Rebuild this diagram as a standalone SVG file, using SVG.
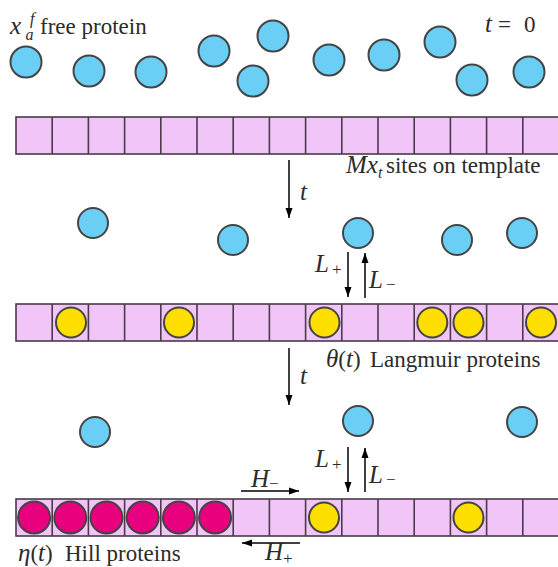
<svg xmlns="http://www.w3.org/2000/svg" xmlns:xlink="http://www.w3.org/1999/xlink" width="558" height="567" viewBox="0 0 558 567">
<style>
text{font-family:"Liberation Serif","DejaVu Serif",serif;font-size:23px;fill:#2b2b2b}
.i{font-style:italic;font-size:25px}
.s{font-size:17px}
.si{font-size:16px;font-style:italic}
.free{fill:#6bcff5;stroke:#444;stroke-width:2}
.lang{fill:#ffdf00;stroke:#444;stroke-width:2}
.hill{fill:#e8007f;stroke:#444;stroke-width:2}
.cell{fill:#f2c5f8;stroke:#4a3a4a;stroke-width:1.6}
.div{stroke:#4a3a4a;stroke-width:1.6}
.arr{stroke:#000;stroke-width:1.5;fill:none;marker-end:url(#ah)}
</style>
<defs>
<marker id="ah" viewBox="0 0 10 10" refX="10" refY="5" markerWidth="10" markerHeight="10" markerUnits="userSpaceOnUse" orient="auto">
<path d="M0,1.5 L10,5 L0,8.5 z" fill="#000"/>
</marker>
<g id="row">
<rect class="cell" x="16" y="0" width="543" height="37"/>
<path class="div" d="M52.2,0V37M88.4,0V37M124.6,0V37M160.8,0V37M197,0V37M233.2,0V37M269.4,0V37M305.6,0V37M341.8,0V37M378,0V37M414.2,0V37M450.4,0V37M486.6,0V37M522.8,0V37"/>
</g>
</defs>
<rect width="558" height="567" fill="#fff"/>

<g id="labels">
<text x="10" y="34" class="i">x</text><text x="30" y="24" class="si">f</text><text x="25.5" y="40" class="si">a</text>
<text x="40" y="34">free protein</text>
<text x="485" y="32" class="i">t</text><text x="498" y="32" font-size="25">=</text><text x="524" y="32" font-size="25">0</text>
<text x="346" y="173" class="i">Mx</text><text x="378" y="178" class="si">t</text><text x="386" y="173">sites on template</text>
<text x="326" y="367"><tspan class="i">θ</tspan>(<tspan class="i">t</tspan>)</text><text x="370" y="367">Langmuir proteins</text>
<text x="18" y="561"><tspan class="i">η</tspan>(<tspan class="i">t</tspan>)</text><text x="65" y="561">Hill proteins</text>
</g>

<g id="free-t0">
<circle class="free" cx="26" cy="62" r="15.5"/>
<circle class="free" cx="89" cy="71" r="15.5"/>
<circle class="free" cx="151" cy="72" r="15.5"/>
<circle class="free" cx="214" cy="51" r="15.5"/>
<circle class="free" cx="253" cy="81" r="15.5"/>
<circle class="free" cx="273" cy="36" r="15.5"/>
<circle class="free" cx="329" cy="60" r="15.5"/>
<circle class="free" cx="384" cy="55" r="15.5"/>
<circle class="free" cx="440" cy="42" r="15.5"/>
<circle class="free" cx="472" cy="80" r="15.5"/>
<circle class="free" cx="529" cy="72" r="15.5"/>
</g>
<g id="template-1"><use xlink:href="#row" y="117"/></g>

<g id="free-2">
<circle class="free" cx="93" cy="223" r="15"/>
<circle class="free" cx="233" cy="240" r="15"/>
<circle class="free" cx="358" cy="233" r="15"/>
<circle class="free" cx="457" cy="240" r="15"/>
<circle class="free" cx="522" cy="233" r="15"/>
</g>
<g id="template-2">
<use xlink:href="#row" y="304"/>
<circle class="lang" cx="71" cy="322.5" r="15"/>
<circle class="lang" cx="179" cy="322.5" r="15"/>
<circle class="lang" cx="324.5" cy="322.5" r="15"/>
<circle class="lang" cx="432.3" cy="322.5" r="15"/>
<circle class="lang" cx="468.5" cy="322.5" r="15"/>
<circle class="lang" cx="541" cy="322.5" r="15"/>
</g>

<g id="free-3">
<circle class="free" cx="95" cy="432" r="15"/>
<circle class="free" cx="358" cy="421" r="15"/>
<circle class="free" cx="522" cy="422" r="15"/>
</g>
<g id="template-3">
<use xlink:href="#row" y="499"/>
<circle class="hill" cx="34.1" cy="517.5" r="16"/>
<circle class="hill" cx="70.3" cy="517.5" r="16"/>
<circle class="hill" cx="106.5" cy="517.5" r="16"/>
<circle class="hill" cx="142.7" cy="517.5" r="16"/>
<circle class="hill" cx="178.9" cy="517.5" r="16"/>
<circle class="hill" cx="215.1" cy="517.5" r="16"/>
<circle class="lang" cx="324" cy="517.5" r="15"/>
<circle class="lang" cx="468.5" cy="517.5" r="15"/>
</g>

<g id="connectors">
<line class="arr" x1="289" y1="160" x2="289" y2="218"/>
<line class="arr" x1="289" y1="348" x2="289" y2="405"/>
<line class="arr" x1="348" y1="252" x2="348" y2="297"/>
<line class="arr" x1="365" y1="298" x2="365" y2="253"/>
<line class="arr" x1="348" y1="447" x2="348" y2="492"/>
<line class="arr" x1="365" y1="492" x2="365" y2="448"/>
<line class="arr" x1="241" y1="491" x2="299" y2="491"/>
<line class="arr" x1="300" y1="543" x2="242" y2="543"/>
</g>

<g id="connector-labels">
<text x="300" y="200" class="i">t</text>
<text x="300" y="384" class="i">t</text>
<text x="315" y="272" class="i">L</text><text x="332" y="275" class="s">+</text>
<text x="369" y="288" class="i">L</text><text x="386" y="290" class="s">−</text>
<text x="315" y="467" class="i">L</text><text x="332" y="470" class="s">+</text>
<text x="369" y="483" class="i">L</text><text x="386" y="485" class="s">−</text>
<text x="251" y="487" class="i">H</text><text x="269" y="489" class="s">−</text>
<text x="265" y="560" class="i">H</text><text x="283" y="564" class="s">+</text>
</g>
</svg>
